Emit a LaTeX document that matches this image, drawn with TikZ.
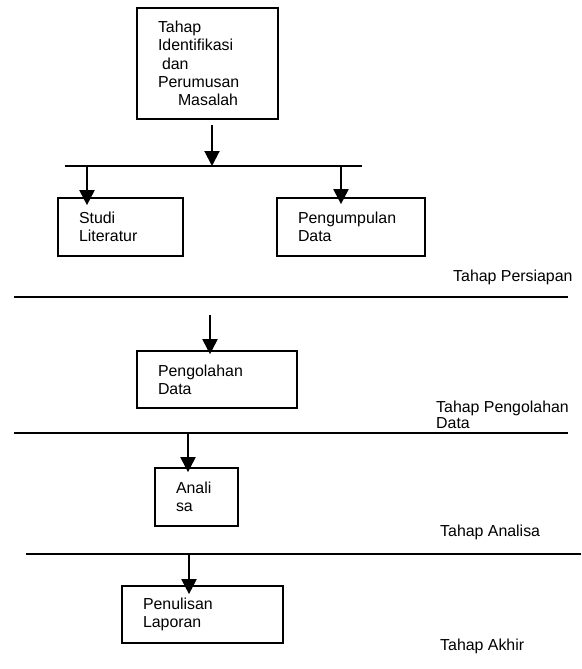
\documentclass[tikz,border=0pt]{standalone}
\usepackage{fontspec}
\setmainfont{Liberation Sans}
\usepackage{tikz}
\usetikzlibrary{arrows.meta, positioning, calc}

\begin{document}
\begin{tikzpicture}[x=1pt, y=-1pt,
    font=\fontsize{15.9pt}{18.3pt}\selectfont,
    tahapbox/.style={draw, line width=1.7pt, inner xsep=21pt, inner ysep=0pt, align=left},
    garis/.style={line width=2pt},
    panah/.style={line width=2pt, -{Triangle[length=15pt,width=15pt]}},
    ket/.style={anchor=west, inner sep=0pt, align=left}]
			\useasboundingbox (0,0) rectangle (581,669);
			% kotak tahapan
			\node[tahapbox, text width=99pt, minimum height=111pt] (ident) at (207.5,63.5)
				{Tahap\\Identifikasi\\\hspace*{4pt}dan\\Perumusan\\\hspace*{20pt}Masalah};
			\node[tahapbox, text width=83pt, minimum height=58pt] (studi) at (120.5,227) {Studi\\Literatur};
			\node[tahapbox, text width=106pt, minimum height=58pt] (kumpul) at (351,227) {Pengumpulan\\Data};
			\node[tahapbox, text width=118pt, minimum height=57pt] (olah) at (217,379.5) {Pengolahan\\Data};
			\node[tahapbox, text width=41pt, minimum height=58pt] (analisa) at (196.5,497) {Anali\\sa};
			\node[tahapbox, text width=119pt, minimum height=57pt] (tulis) at (202.5,614.5) {Penulisan\\Laporan};
			% garis cabang dan pemisah
			\coordinate (cabangL) at (65,166);
			\coordinate (cabangR) at (362,166);
			\draw[garis] (cabangL) -- (cabangR);
			\coordinate (batas1L) at (14,297);
			\coordinate (batas1R) at (568,297);
			\draw[garis] (batas1L) -- (batas1R);
			\coordinate (batas2L) at (14,433);
			\coordinate (batas2R) at (568,433);
			\draw[garis] (batas2L) -- (batas2R);
			\coordinate (batas3L) at (26,554);
			\coordinate (batas3R) at (581,554);
			\draw[garis] (batas3L) -- (batas3R);
			% panah
			\coordinate (a0) at (212,125);
			\coordinate (a1) at (212,166);
			\draw[panah] (a0) -- (a1);
			\coordinate (b1) at (87,166);
			\draw[panah, shorten >=-8pt] (b1) -- (b1 |- studi.north);
			\coordinate (b2) at (341,166);
			\draw[panah, shorten >=-7pt] (b2) -- (b2 |- kumpul.north);
			\coordinate (c0) at (210,315);
			\draw[panah, shorten >=-4pt] (c0) -- (c0 |- olah.north);
			\coordinate (d0) at (188,433);
			\draw[panah, shorten >=-5pt] (d0) -- (d0 |- analisa.north);
			\coordinate (e0) at (189,554);
			\draw[panah, shorten >=-9pt] (e0) -- (e0 |- tulis.north);
			% keterangan tahap
			\node[ket] (persiapan) at (453,277) {Tahap Persiapan};
			\node[ket, font=\fontsize{15.9pt}{16pt}\selectfont] (pengolahan) at (436,415) {Tahap Pengolahan\\Data};
			\node[ket] (analisis) at (440,532) {Tahap Analisa};
			\node[ket] (akhir) at (440,646) {Tahap Akhir};
		\end{tikzpicture}
\end{document}
